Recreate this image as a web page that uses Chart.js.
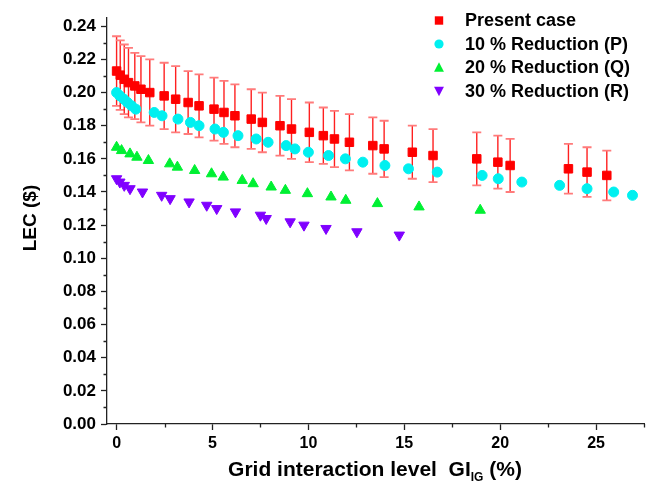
<!DOCTYPE html>
<html><head><meta charset="utf-8">
<script src="https://cdn.jsdelivr.net/npm/chart.js@4.4.0/dist/chart.umd.min.js"></script>
<style>html,body{margin:0;padding:0;background:#fff}#wrap{width:651px;height:490px}</style>
</head><body><div id="wrap"><canvas id="c" width="651" height="490"></canvas></div>
<script>
const seriesNames = ['Present case', '10 % Reduction (P)', '20 % Reduction (Q)', '30 % Reduction (R)'];
const presentX = [0, 0.19, 0.4, 0.62, 0.95, 1.27, 1.73, 2.48, 3.08, 3.73, 4.3, 5.08, 5.6, 6.17, 7.02, 7.6, 8.52, 9.12, 10.05, 10.78, 11.36, 12.14, 13.36, 13.95, 15.42, 16.5, 18.78, 19.88, 20.52, 23.56, 24.53, 25.56];
const presentY = [0.213, 0.2105, 0.208, 0.206, 0.204, 0.202, 0.200, 0.198, 0.196, 0.194, 0.192, 0.190, 0.188, 0.186, 0.184, 0.182, 0.180, 0.178, 0.176, 0.174, 0.172, 0.170, 0.168, 0.166, 0.164, 0.162, 0.160, 0.158, 0.156, 0.154, 0.152, 0.150];
const presentErr = [0.021, 0.021, 0.021, 0.021, 0.020, 0.020, 0.020, 0.020, 0.020, 0.019, 0.019, 0.019, 0.019, 0.019, 0.018, 0.018, 0.018, 0.018, 0.018, 0.017, 0.017, 0.017, 0.017, 0.017, 0.016, 0.016, 0.016, 0.016, 0.016, 0.015, 0.015, 0.015];
const pX = [0, 0.17, 0.38, 0.57, 0.78, 1.0, 1.96, 2.37, 3.2, 3.85, 4.3, 5.13, 5.57, 6.33, 7.28, 7.9, 8.84, 9.3, 10.0, 11.05, 11.93, 12.84, 13.99, 15.22, 16.72, 19.06, 19.9, 21.13, 23.1, 24.53, 25.92, 26.9];
const pY = [0.200, 0.198, 0.196, 0.194, 0.192, 0.190, 0.188, 0.186, 0.184, 0.182, 0.180, 0.178, 0.176, 0.174, 0.172, 0.170, 0.168, 0.166, 0.164, 0.162, 0.160, 0.158, 0.156, 0.154, 0.152, 0.150, 0.148, 0.146, 0.144, 0.142, 0.140, 0.138];
const qX = [0, 0.26, 0.7, 1.06, 1.66, 2.77, 3.17, 4.07, 4.95, 5.56, 6.55, 7.12, 8.06, 8.8, 9.95, 11.18, 11.95, 13.6, 15.77, 18.96];
const qY = [0.167, 0.165, 0.163, 0.161, 0.159, 0.157, 0.155, 0.153, 0.151, 0.149, 0.147, 0.145, 0.143, 0.141, 0.139, 0.137, 0.135, 0.133, 0.131, 0.129];
const rX = [0, 0.17, 0.4, 0.7, 1.35, 2.35, 2.79, 3.78, 4.7, 5.22, 6.2, 7.5, 7.8, 9.05, 9.77, 10.92, 12.53, 14.74];
const rY = [0.148, 0.146, 0.144, 0.142, 0.140, 0.138, 0.136, 0.134, 0.132, 0.130, 0.128, 0.126, 0.124, 0.122, 0.120, 0.118, 0.116, 0.114];
const xTickValues = [0, 2.5, 5, 7.5, 10, 12.5, 15, 17.5, 20, 22.5, 25, 27.5];
const xMajorTicks = [0, 5, 10, 15, 20, 25];
const yTickValues = [0, 0.01, 0.02, 0.03, 0.04, 0.05, 0.06, 0.07, 0.08, 0.09, 0.10, 0.11, 0.12, 0.13, 0.14, 0.15, 0.16, 0.17, 0.18, 0.19, 0.20, 0.21, 0.22, 0.23, 0.24];
const yMajorTicks = [0, 0.02, 0.04, 0.06, 0.08, 0.10, 0.12, 0.14, 0.16, 0.18, 0.20, 0.22, 0.24];

const FONT = '"Liberation Sans", Arial, sans-serif';
const toPts = (xs, ys) => xs.map((x, i) => ({x: x, y: ys[i]}));
const isMajor = (v, list) => list.some(m => Math.abs(m - v) < 1e-9);

const colors = ['#ff0000', '#00f0f0', '#00f033', '#8000ff'];
const styles = [
  {pointStyle: 'rect', radius: 6, rotation: 0},
  {pointStyle: 'circle', radius: 5, rotation: 0},
  {pointStyle: 'triangle', radius: 6, rotation: 0},
  {pointStyle: 'triangle', radius: 6, rotation: 180}
];
const seriesData = [toPts(presentX, presentY), toPts(pX, pY), toPts(qX, qY), toPts(rX, rY)];

const datasets = seriesData.map((d, i) => ({
  label: seriesNames[i],
  data: d,
  pointStyle: styles[i].pointStyle,
  pointRadius: styles[i].radius,
  pointRotation: styles[i].rotation,
  pointBackgroundColor: colors[i],
  pointBorderColor: colors[i],
  pointBorderWidth: 1,
  showLine: false,
  order: i
}));

const errorBars = {
  id: 'errorBars',
  beforeDatasetsDraw(chart) {
    const ctx = chart.ctx, xs = chart.scales.x, ys = chart.scales.y;
    ctx.save();
    presentX.forEach((xv, i) => {
      const px = xs.getPixelForValue(xv);
      const top = ys.getPixelForValue(presentY[i] + presentErr[i]);
      const bot = ys.getPixelForValue(presentY[i] - presentErr[i]);
      ctx.strokeStyle = '#ff2020';
      ctx.lineWidth = 1.4;
      ctx.beginPath(); ctx.moveTo(px, top); ctx.lineTo(px, bot); ctx.stroke();
      ctx.strokeStyle = '#ff7b7b';
      ctx.lineWidth = 1.8;
      ctx.beginPath();
      ctx.moveTo(px - 4.5, top); ctx.lineTo(px + 4.5, top);
      ctx.moveTo(px - 4.5, bot); ctx.lineTo(px + 4.5, bot);
      ctx.stroke();
    });
    ctx.restore();
  }
};

function drawMarker(ctx, style, x, y, r, color) {
  ctx.fillStyle = color;
  ctx.beginPath();
  if (style === 'rect') {
    ctx.rect(x - r, y - r, 2 * r, 2 * r);
  } else if (style === 'circle') {
    ctx.arc(x, y, r, 0, Math.PI * 2);
  } else if (style === 'up') {
    ctx.moveTo(x, y - r); ctx.lineTo(x + r * 0.95, y + r * 0.8); ctx.lineTo(x - r * 0.95, y + r * 0.8); ctx.closePath();
  } else {
    ctx.moveTo(x, y + r); ctx.lineTo(x + r * 0.95, y - r * 0.8); ctx.lineTo(x - r * 0.95, y - r * 0.8); ctx.closePath();
  }
  ctx.fill();
}

const decorations = {
  id: 'decorations',
  afterDraw(chart) {
    const ctx = chart.ctx, xs = chart.scales.x, ys = chart.scales.y;
    ctx.save();
    // minor ticks
    ctx.strokeStyle = '#222';
    ctx.lineWidth = 1.3;
    ctx.beginPath();
    yTickValues.forEach(v => {
      if (isMajor(v, yMajorTicks)) return;
      const py = Math.round(ys.getPixelForValue(v)) + 0.5;
      ctx.moveTo(xs.left - 3.5, py); ctx.lineTo(xs.left, py);
    });
    xTickValues.forEach(v => {
      if (isMajor(v, xMajorTicks)) return;
      const px = Math.round(xs.getPixelForValue(v)) + 0.5;
      ctx.moveTo(px, ys.bottom); ctx.lineTo(px, ys.bottom + 3.5);
    });
    ctx.stroke();

    // legend
    const legendStyles = ['rect', 'circle', 'up', 'down'];
    const legendSizes = [4.2, 4.6, 5.2, 5.2];
    const rowsY = [20.5, 44, 67.5, 91];
    ctx.font = 'bold 18px ' + FONT;
    ctx.textBaseline = 'middle';
    ctx.textAlign = 'left';
    seriesNames.forEach((name, i) => {
      drawMarker(ctx, legendStyles[i], 439, rowsY[i], legendSizes[i], colors[i]);
      ctx.fillStyle = '#000';
      ctx.fillText(name, 465, rowsY[i] + 1);
    });

    // x title with subscript
    const mainFont = 'bold 21px ' + FONT;
    const subFont = 'bold 12px ' + FONT;
    const p1 = 'Grid interaction level  GI', p2 = 'IG', p3 = ' (%)';
    ctx.textBaseline = 'alphabetic';
    ctx.font = mainFont; const w1 = ctx.measureText(p1).width, w3 = ctx.measureText(p3).width;
    ctx.font = subFont; const w2 = ctx.measureText(p2).width;
    const total = w1 + w2 + w3;
    let sx = 375 - total / 2;
    const base = 476;
    ctx.fillStyle = '#000';
    ctx.font = mainFont; ctx.fillText(p1, sx, base); sx += w1;
    ctx.font = subFont; ctx.fillText(p2, sx, base + 5); sx += w2;
    ctx.font = mainFont; ctx.fillText(p3, sx, base);

    // y title
    ctx.save();
    ctx.translate(31, 218);
    ctx.rotate(-Math.PI / 2);
    ctx.textAlign = 'center';
    ctx.textBaseline = 'middle';
    ctx.font = 'bold 19px ' + FONT;
    ctx.fillText('LEC ($)', 0, 0);
    ctx.restore();
    ctx.restore();
  }
};

new Chart(document.getElementById('c'), {
  type: 'scatter',
  data: {datasets: datasets},
  options: {
    responsive: false,
    animation: false,
    devicePixelRatio: 1,
    layout: {padding: {left: 0, right: 7, top: 18, bottom: 0}},
    plugins: {legend: {display: false}, tooltip: {enabled: false}},
    scales: {
      x: {
        type: 'linear', min: -0.5, max: 27.5,
        afterBuildTicks: s => { s.ticks = xTickValues.map(v => ({value: v})); },
        afterFit: s => { s.height = 66; },
        ticks: {
          autoSkip: false, maxRotation: 0, padding: 4, color: '#000',
          font: {family: FONT, size: 16, weight: 'bold'},
          callback: v => isMajor(v, xMajorTicks) ? String(v) : ''
        },
        grid: {drawOnChartArea: false, drawTicks: true, tickLength: 6, tickWidth: 1.3,
               tickColor: c => (c.tick && isMajor(c.tick.value, xMajorTicks)) ? '#222' : 'rgba(0,0,0,0)'},
        border: {display: true, color: '#222', width: 1.3}
      },
      y: {
        type: 'linear', min: 0, max: 0.245,
        afterBuildTicks: s => { s.ticks = yTickValues.map(v => ({value: v})); },
        afterFit: s => { s.width = 107; },
        ticks: {
          autoSkip: false, padding: 5, color: '#000',
          font: {family: FONT, size: 17, weight: 'bold'},
          callback: v => isMajor(v, yMajorTicks) ? v.toFixed(2) : ''
        },
        grid: {drawOnChartArea: false, drawTicks: true, tickLength: 6, tickWidth: 1.3,
               tickColor: c => (c.tick && isMajor(c.tick.value, yMajorTicks)) ? '#222' : 'rgba(0,0,0,0)'},
        border: {display: true, color: '#222', width: 1.3}
      }
    }
  },
  plugins: [errorBars, decorations]
});
</script>
</body></html>
